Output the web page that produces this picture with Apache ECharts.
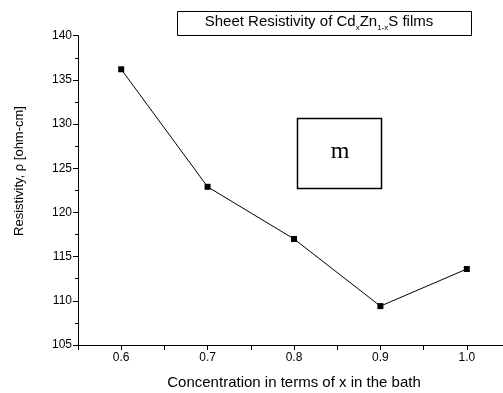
<!DOCTYPE html>
<html><head><meta charset="utf-8">
<script src="https://cdn.jsdelivr.net/npm/echarts@6/dist/echarts.min.js"></script>
<style>html,body{margin:0;padding:0;background:#fff}#c{width:503px;height:393px}</style>
</head><body><div id="c"></div>
<script>
const xValues = [0.6, 0.7, 0.8, 0.9, 1.0];
const resistivity = [136.2, 122.9, 117.0, 109.4, 113.6];
const xTickLabels = ['0.6', '0.7', '0.8', '0.9', '1.0'];
const yTickLabels = ['105', '110', '115', '120', '125', '130', '135', '140'];

const chart = echarts.init(document.getElementById('c'));
const font = 'Liberation Sans, Arial, sans-serif';
chart.setOption({
  animation: false,
  backgroundColor: '#fff',
  grid: { left: 78, width: 432, top: 35.7, height: 309.3, outerBoundsMode: 'none', containLabel: false },
  xAxis: {
    type: 'value', min: 0.55, max: 1.05, interval: 0.05,
    axisLine: { lineStyle: { color: '#000', width: 1 } },
    axisTick: { inside: false, length: 5, lineStyle: { color: '#000' } },
    splitLine: { show: false },
    axisLabel: {
      color: '#000', fontFamily: font, fontSize: 12, margin: 7,
      formatter: v => { const s = v.toFixed(1); return xTickLabels.includes(s) && Math.abs(v*10 - Math.round(v*10)) < 1e-6 ? s : ''; }
    },
    name: 'Concentration in terms of x in the bath', nameLocation: 'middle', nameGap: 30,
    nameTextStyle: { color: '#000', fontFamily: font, fontSize: 15 }
  },
  yAxis: {
    type: 'value', min: 105, max: 140, interval: 5,
    axisLine: { show: true, lineStyle: { color: '#000', width: 1 } },
    axisTick: { show: true, length: 5, lineStyle: { color: '#000' } },
    minorTick: { show: true, splitNumber: 2, length: 3, lineStyle: { color: '#000' } },
    splitLine: { show: false },
    axisLabel: { color: '#000', fontFamily: font, fontSize: 12, margin: 6,
      formatter: v => yTickLabels.includes(String(v)) ? String(v) : '' }
  },
  series: [{
    type: 'line',
    data: xValues.map((x, i) => [x, resistivity[i]]),
    symbol: 'rect', symbolSize: 6,
    lineStyle: { color: '#000', width: 1 },
    itemStyle: { color: '#000' }
  }],
  graphic: [
    { type: 'text', x: 19, y: 171, rotation: Math.PI / 2,
      style: { text: 'Resistivity, \u03c1 [ohm-cm]', align: 'center', verticalAlign: 'middle',
        fontFamily: font, fontSize: 13, fill: '#000' } },
    { type: 'rect', shape: { x: 177.5, y: 11.5, width: 294, height: 24 },
      style: { fill: '#fff', stroke: '#000', lineWidth: 1 } },
    { type: 'text', x: 319, y: 22,
      style: {
        text: '{n|Sheet Resistivity of Cd}{s|x}{n|Zn}{s|1-x}{n|S films}',
        align: 'center', verticalAlign: 'middle',
        rich: {
          n: { fontFamily: font, fontSize: 15, fill: '#000' },
          s: { fontFamily: font, fontSize: 8, fill: '#000', padding: [12, 0, 0, 0] }
        }
      } },
    { type: 'rect', shape: { x: 297.5, y: 118.5, width: 84, height: 70 },
      style: { fill: '#fff', stroke: '#000', lineWidth: 1.5 } },
    { type: 'text', x: 340, y: 152,
      style: { text: 'm', align: 'center', verticalAlign: 'middle',
        fontFamily: 'Liberation Serif, Times New Roman, serif', fontSize: 24, fill: '#000' } }
  ]
});
</script></body></html>
